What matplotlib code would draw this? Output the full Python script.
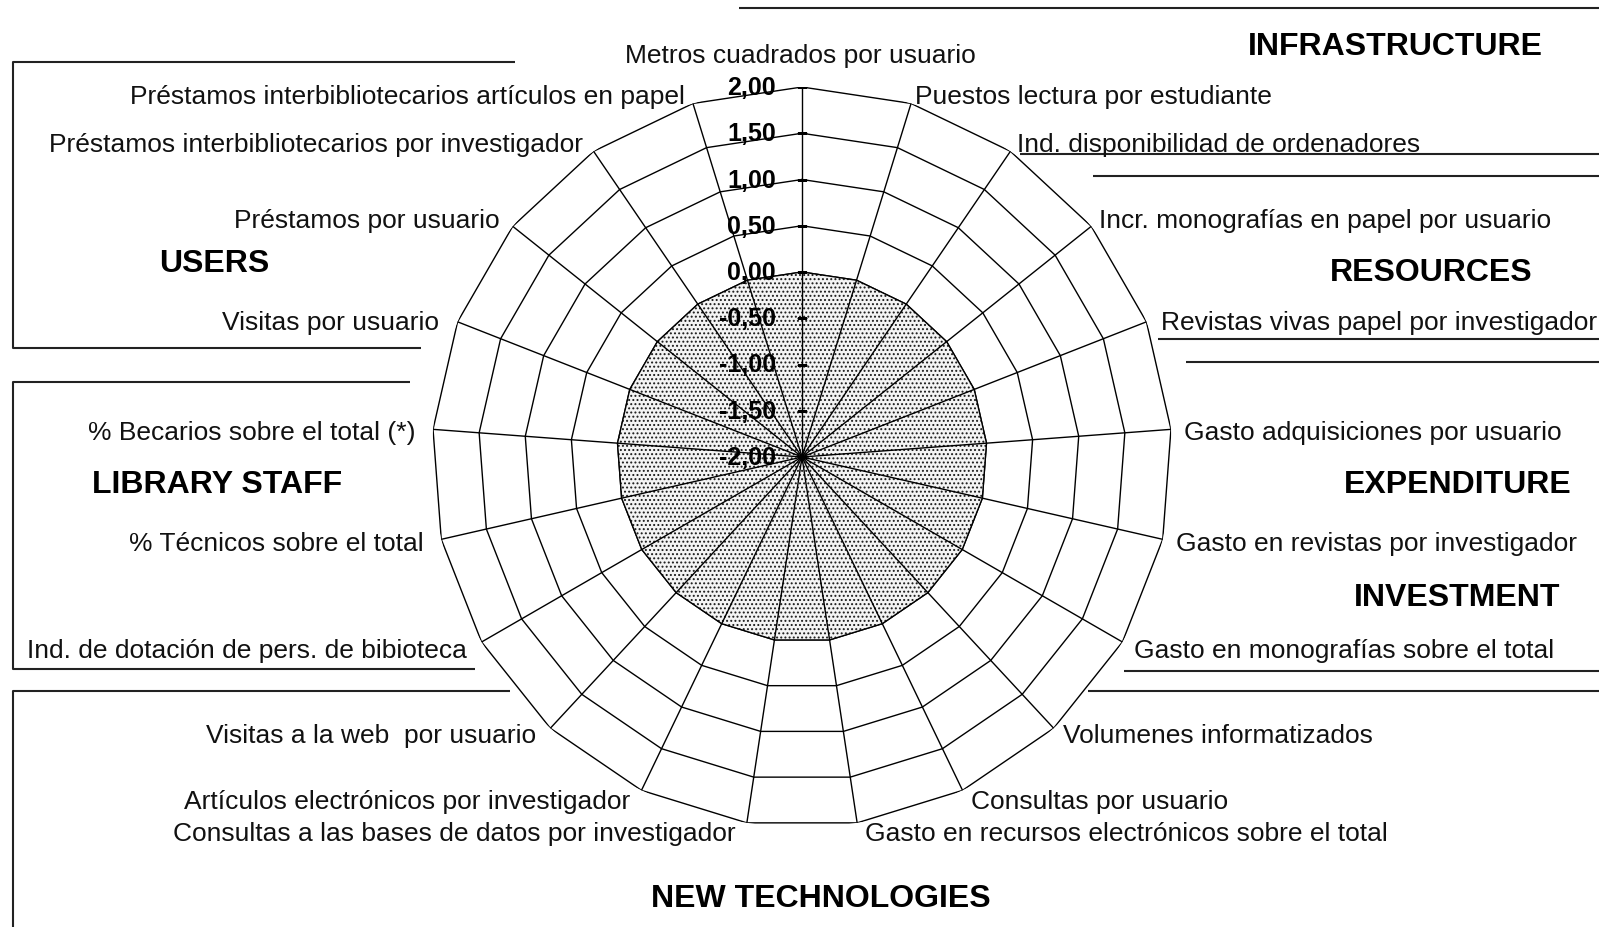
import numpy as np
import matplotlib
matplotlib.use("Agg")
import matplotlib.pyplot as plt
from matplotlib.transforms import offset_copy

plt.rcParams['font.family'] = ['Liberation Sans', 'DejaVu Sans']
plt.rcParams['hatch.linewidth'] = 0.9

W, H = 1599, 928

# indicators, clockwise from the top
indicators = [
    "Metros cuadrados por usuario",
    "Puestos lectura por estudiante",
    "Ind. disponibilidad de ordenadores",
    "Incr. monografías en papel por usuario",
    "Revistas vivas papel por investigador",
    "Gasto adquisiciones por usuario",
    "Gasto en revistas por investigador",
    "Gasto en monografías sobre el total",
    "Volumenes informatizados",
    "Consultas por usuario",
    "Gasto en recursos electrónicos sobre el total",
    "Consultas a las bases de datos por investigador",
    "Artículos electrónicos por investigador",
    "Visitas a la web  por usuario",
    "Ind. de dotación de pers. de bibioteca",
    "% Técnicos sobre el total",
    "% Becarios sobre el total (*)",
    "Visitas por usuario",
    "Préstamos por usuario",
    "Préstamos interbibliotecarios por investigador",
    "Préstamos interbibliotecarios artículos en papel",
]
# standardised values (all at the mean)
values = [0.00] * len(indicators)
levels = [-2.0, -1.5, -1.0, -0.5, 0.0, 0.5, 1.0, 1.5, 2.0]

groups = ["INFRASTRUCTURE", "RESOURCES", "USERS", "LIBRARY STAFF",
          "EXPENDITURE", "INVESTMENT", "NEW TECHNOLOGIES"]

# label anchors in pixels (x, y from top, horizontal alignment)
label_pos = [
    (800, 56, 'center'), (915, 97, 'left'), (1017, 145, 'left'),
    (1099, 221, 'left'), (1161, 323, 'left'), (1184, 433, 'left'),
    (1176, 544, 'left'), (1134, 651, 'left'), (1063, 736, 'left'),
    (971, 802, 'left'), (865, 834, 'left'), (736, 834, 'right'),
    (630, 802, 'right'), (536, 736, 'right'), (467, 651, 'right'),
    (424, 544, 'right'), (415, 433, 'right'), (439, 323, 'right'),
    (500, 221, 'right'), (583, 145, 'right'), (685, 97, 'right'),
]
group_pos = [(1395, 47), (1431, 273), (214, 264), (217, 485),
             (1458, 485), (1457, 598), (821, 899)]

box_lines = [
    [(515, 63), (13, 63), (13, 349), (421, 349)],
    [(410, 383), (13, 383), (13, 670), (475, 670)],
    [(510, 692), (13, 692), (13, 940)],
    [(739, 9), (1610, 9)],
    [(1020, 155), (1610, 155)],
    [(1093, 177), (1610, 177)],
    [(1158, 340), (1610, 340)],
    [(1186, 363), (1610, 363)],
    [(1124, 672), (1610, 672)],
    [(1088, 692), (1610, 692)],
]

fig = plt.figure(figsize=(W / 100, H / 100), dpi=100)
fig.patch.set_facecolor('white')

# decoration layer in pixel coordinates
deco = fig.add_axes([0, 0, 1, 1])
deco.set_xlim(0, W)
deco.set_ylim(H, 0)
deco.set_axis_off()

for pts in box_lines:
    xs, ys = zip(*pts)
    deco.plot(xs, ys, color='#222222', lw=1.5, solid_capstyle='butt')

for txt, (x, y, ha) in zip(indicators, label_pos):
    deco.text(x, y, txt, ha=ha, va='center', fontsize=19, color='#111111')

for g, (x, y) in zip(groups, group_pos):
    deco.text(x, y, g, ha='center', va='center', fontsize=23, fontweight='bold')

# radar
cx, cy, R = 802, 458, 370
ax = fig.add_axes([(cx - R) / W, 1 - (cy + R) / H, 2 * R / W, 2 * R / H],
                  projection='polar')
ax.set_theta_zero_location('N')
ax.set_theta_direction(-1)
ax.set_ylim(-2, 2)
ax.set_axis_off()

n = len(indicators)
theta = np.linspace(0, 2 * np.pi, n, endpoint=False)
theta_c = np.append(theta, theta[0])

for lv in levels[1:]:
    ax.plot(theta_c, [lv] * (n + 1), color='black', lw=1.0, zorder=1)

vals_c = np.append(values, values[0])
ax.fill(theta_c, vals_c, facecolor='#f4f4f4', edgecolor='#1a1a1a',
        hatch='....', lw=0, zorder=2)
ax.plot(theta_c, vals_c, color='black', lw=1.0, zorder=3)

for t in theta:
    ax.plot([t, t], [-2, 2], color='black', lw=1.0, zorder=3)

# value axis ticks and labels
ax.plot([0] * len(levels), levels, ls='none', marker='_', markersize=7,
        color='black', mew=1.0, zorder=4)
lbl_tr = offset_copy(ax.transData, fig=fig, x=-26, y=0, units='dots')
for lv in levels:
    ax.text(0, lv, f"{lv:.2f}".replace('.', ','), transform=lbl_tr,
            ha='right', va='center', fontsize=18, fontweight='bold',
            family=['Liberation Sans Narrow', 'Liberation Sans'], zorder=5)

fig.savefig("out.png", dpi=100)
